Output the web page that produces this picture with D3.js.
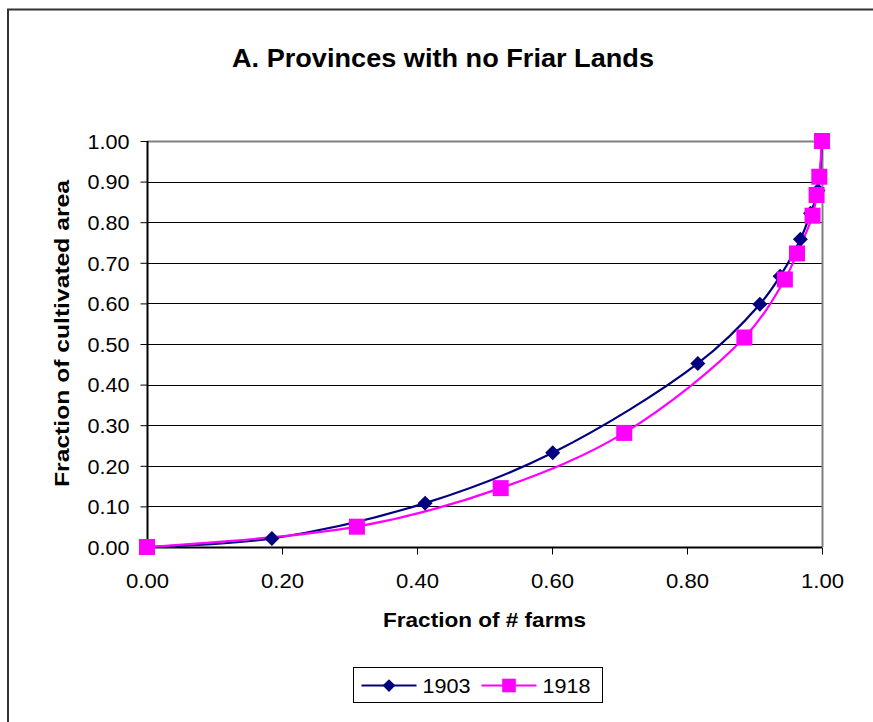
<!DOCTYPE html>
<html>
<head>
<meta charset="utf-8">
<script src="https://cdn.jsdelivr.net/npm/d3@7"></script>
<style>
  html, body { margin: 0; padding: 0; background: #fff; }
  svg { display: block; }
  text { font-family: "Liberation Sans", Arial, sans-serif; fill: #000; }
</style>
</head>
<body>
<svg id="chart" width="873" height="722"></svg>
<script>
// Cumulative distribution of cultivated area vs. number of farms
const farms1903 = [0, 0.185, 0.412, 0.601, 0.816, 0.908, 0.938, 0.968, 0.983, 0.994, 1.0];
const area1903  = [0, 0.021, 0.108, 0.232, 0.452, 0.598, 0.667, 0.758, 0.822, 0.878, 1.0];
const farms1918 = [0, 0.311, 0.524, 0.707, 0.885, 0.945, 0.963, 0.986, 0.992, 0.996, 1.0];
const area1918  = [0, 0.050, 0.145, 0.281, 0.516, 0.659, 0.723, 0.816, 0.867, 0.912, 1.0];

const xTicks = [0, 0.2, 0.4, 0.6, 0.8, 1.0];
const yTicks = [0, 0.1, 0.2, 0.3, 0.4, 0.5, 0.6, 0.7, 0.8, 0.9, 1.0];
const seriesNames = ["1903", "1918"];
const seriesColors = ["#000080", "#FF00FF"];

const FONT = "Liberation Sans, Arial, sans-serif";
const svg = d3.select("#chart");

// Outer chart frame (runs past the right and bottom edges)
svg.append("rect")
  .attr("x", 8).attr("y", 9.5)
  .attr("width", 900).attr("height", 760)
  .attr("fill", "#fff").attr("stroke", "#333").attr("stroke-width", 2);

const plot = { left: 147, right: 822, top: 141, bottom: 547 };
const x = d3.scaleLinear().domain([0, 1]).range([plot.left, plot.right]);
const y = d3.scaleLinear().domain([0, 1]).range([plot.bottom, plot.top]);

// Title
svg.append("text")
  .attr("x", 443).attr("y", 67)
  .attr("text-anchor", "middle")
  .attr("font-size", 26).attr("font-weight", "bold")
  .attr("textLength", 422).attr("lengthAdjust", "spacingAndGlyphs")
  .text("A. Provinces with no Friar Lands");

// Horizontal gridlines
svg.append("g")
  .selectAll("line")
  .data(yTicks.filter(t => t > 0 && t < 1))
  .join("line")
  .attr("x1", plot.left).attr("x2", plot.right)
  .attr("y1", d => Math.round(y(d)) + 0.5).attr("y2", d => Math.round(y(d)) + 0.5)
  .attr("stroke", "#000").attr("stroke-width", 1);

// Plot area top & right border
svg.append("path")
  .attr("d", `M${plot.left},${plot.top + 0.5}H${plot.right + 0.5}V${plot.bottom}`)
  .attr("fill", "none").attr("stroke", "#808080").attr("stroke-width", 2);

// Y axis
const yAxis = svg.append("g")
  .attr("transform", `translate(${plot.left + 0.5},0)`)
  .call(d3.axisLeft(y).tickValues(yTicks).tickFormat(d3.format(".2f")).tickSize(7).tickPadding(10));
yAxis.select(".domain").attr("stroke", "#000").attr("stroke-width", 2).attr("d", `M0,${plot.top}V${plot.bottom}`);
yAxis.selectAll(".tick line").attr("stroke", "#000");
yAxis.selectAll(".tick text")
  .attr("font-size", 20).attr("font-family", FONT).attr("fill", "#000")
  .attr("x", -18).attr("dy", "0.36em")
  .attr("textLength", 42).attr("lengthAdjust", "spacingAndGlyphs");

// X axis
const xAxis = svg.append("g")
  .attr("transform", `translate(0,${plot.bottom + 0.5})`)
  .call(d3.axisBottom(x).tickValues(xTicks).tickFormat(d3.format(".2f")).tickSize(7).tickPadding(19));
xAxis.select(".domain").attr("stroke", "#000").attr("stroke-width", 2).attr("d", `M${plot.left},0H${plot.right}`);
xAxis.selectAll(".tick line").attr("stroke", "#000");
xAxis.selectAll(".tick text")
  .attr("font-size", 20).attr("font-family", FONT).attr("fill", "#000")
  .attr("textLength", 43).attr("lengthAdjust", "spacingAndGlyphs");

// Axis titles
svg.append("text")
  .attr("x", 484.5).attr("y", 627)
  .attr("text-anchor", "middle")
  .attr("font-size", 21).attr("font-weight", "bold")
  .attr("textLength", 203).attr("lengthAdjust", "spacingAndGlyphs")
  .text("Fraction of # farms");
svg.append("text")
  .attr("transform", "translate(69,333.5) rotate(-90)")
  .attr("text-anchor", "middle")
  .attr("font-size", 21).attr("font-weight", "bold")
  .attr("textLength", 307).attr("lengthAdjust", "spacingAndGlyphs")
  .text("Fraction of cultivated area");

// Marker shapes: Excel-style diamond (square rotated 45°) and square
const diamond = r => `M0,${-r}L${r},0L0,${r}L${-r},0Z`;
const square = r => `M${-r},${-r}H${r}V${r}H${-r}Z`;

const series = [
  { name: seriesNames[0], color: seriesColors[0], xs: farms1903, ys: area1903, marker: diamond, r: 7.5 },
  { name: seriesNames[1], color: seriesColors[1], xs: farms1918, ys: area1918, marker: square, r: 8 }
];

const line = d3.line()
  .x(d => x(d[0])).y(d => y(d[1]))
  .curve(d3.curveCatmullRom.alpha(0.5));

series.forEach(s => {
  const pts = s.xs.map((v, i) => [v, s.ys[i]]);
  svg.append("path")
    .datum(pts)
    .attr("d", line)
    .attr("fill", "none")
    .attr("stroke", s.color)
    .attr("stroke-width", 2.2);
});

series.forEach(s => {
  const pts = s.xs.map((v, i) => [v, s.ys[i]]);
  svg.append("g")
    .selectAll("path")
    .data(pts)
    .join("path")
    .attr("transform", d => `translate(${x(d[0])},${y(d[1])})`)
    .attr("d", s.marker(s.r))
    .attr("fill", s.color);
});

// Legend
const legend = svg.append("g").attr("transform", "translate(353.5,667.5)");
legend.append("rect")
  .attr("width", 249).attr("height", 35)
  .attr("fill", "#fff").attr("stroke", "#000").attr("stroke-width", 1);
series.forEach((s, i) => {
  const gx = 8 + i * 120;
  legend.append("line")
    .attr("x1", gx).attr("x2", gx + 55)
    .attr("y1", 18).attr("y2", 18)
    .attr("stroke", s.color).attr("stroke-width", 2.2);
  legend.append("path")
    .attr("transform", `translate(${gx + 27.5},18)`)
    .attr("d", s.marker(s.r * 0.85))
    .attr("fill", s.color);
  legend.append("text")
    .attr("x", gx + 61).attr("y", 25.5)
    .attr("font-size", 20)
    .attr("textLength", 48).attr("lengthAdjust", "spacingAndGlyphs")
    .text(s.name);
});
</script>
</body>
</html>
